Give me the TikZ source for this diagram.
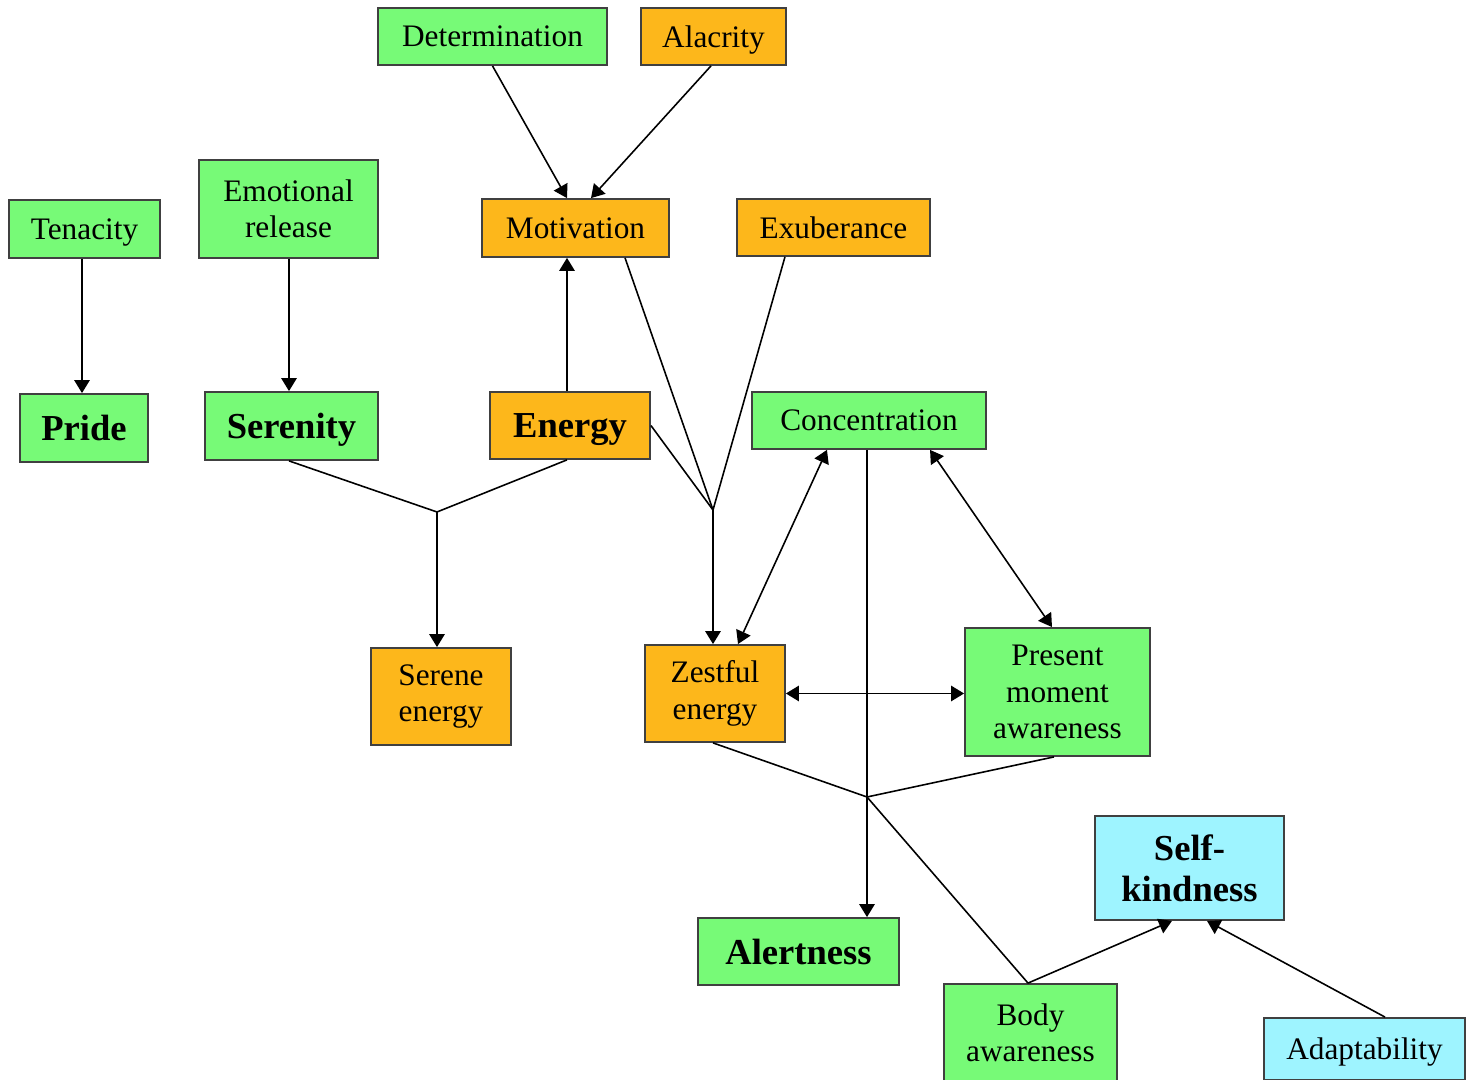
\documentclass[tikz,border=0pt]{standalone}
\usepackage{fontspec}
\setmainfont{Liberation Serif}
\usetikzlibrary{arrows.meta}

\definecolor{boxgreen}{HTML}{77FA77}
\definecolor{boxorange}{HTML}{FDB71B}
\definecolor{boxcyan}{HTML}{9EF4FF}

\tikzset{
  box/.style={draw=black!75, line width=0.5pt, inner sep=0pt, align=center,
    font=\fontsize{8.9}{10.4}\selectfont},
  bigbox/.style={box, font=\fontsize{10.4}{11.7}\selectfont\bfseries},
  gbox/.style={fill=boxgreen},
  obox/.style={fill=boxorange},
  cbox/.style={fill=boxcyan},
  nodepth/.style={text depth=0pt},
  wire/.style={line width=0.45pt},
}

\begin{document}
\begin{tikzpicture}[x=0.01cm, y=-0.01cm, >={Triangle[length=3.7pt,width=4.4pt]}]
  \useasboundingbox (0,0) rectangle (1472,1080);

  % --- top row ---
  \node[box, gbox, minimum width=2.29cm, minimum height=0.57cm] (det) at (492.5,36.5) {Determination};
  \node[box, obox, nodepth, minimum width=1.45cm, minimum height=0.57cm] (alac) at (713.5,36.5) {Alacrity};

  % --- second row ---
  \node[box, gbox, nodepth, minimum width=1.51cm, minimum height=0.58cm] (ten) at (84.5,229) {Tenacity};
  \node[box, gbox, minimum width=1.79cm, minimum height=0.98cm] (emo) at (288.5,209) {Emotional\\release};
  \node[box, obox, minimum width=1.87cm, minimum height=0.58cm] (mot) at (575.5,228) {Motivation};
  \node[box, obox, minimum width=1.93cm, minimum height=0.57cm] (exu) at (833.5,227.5) {Exuberance};

  % --- third row ---
  \node[bigbox, gbox, minimum width=1.28cm, minimum height=0.68cm] (pride) at (84,428) {Pride};
  \node[bigbox, gbox, nodepth, minimum width=1.73cm, minimum height=0.68cm] (ser) at (291.5,426) {Serenity};
  \node[bigbox, obox, nodepth, minimum width=1.60cm, minimum height=0.67cm] (en) at (570,425.5) {Energy};
  \node[box, gbox, minimum width=2.34cm, minimum height=0.57cm] (conc) at (869,420.5) {Concentration};

  % --- fourth row ---
  \node[box, obox, minimum width=1.40cm, minimum height=0.97cm] (sere) at (441,696.5) {Serene\\energy};
  \node[box, obox, minimum width=1.40cm, minimum height=0.97cm] (zest) at (715,693.5) {Zestful\\energy};
  \node[box, gbox, minimum width=1.85cm, minimum height=1.28cm] (pres) at (1057.5,692) {Present\\moment\\awareness};

  % --- bottom ---
  \node[bigbox, cbox, minimum width=1.89cm, minimum height=1.04cm] (self) at (1189.5,868) {Self-\\kindness};
  \node[bigbox, gbox, minimum width=2.01cm, minimum height=0.67cm] (alert) at (798.5,951.5) {Alertness};
  \node[box, gbox, minimum width=1.73cm, minimum height=0.98cm] (body) at (1030.5,1033) {Body\\awareness};
  \node[box, cbox, nodepth, minimum width=2.01cm, minimum height=0.62cm] (adapt) at (1364.5,1049) {Adaptability};

  % junctions
  \coordinate (J1) at (437,512);
  \coordinate (J2) at (713,510);
  \coordinate (J3) at (867,797);

  % --- connectors ---
  \draw[wire, ->] (det.south) -- ([xshift=-0.085cm]mot.north);
  \draw[wire, ->] ([xshift=-0.025cm]alac.south) -- ([xshift=0.155cm]mot.north);
  \draw[wire, ->] ([xshift=-0.025cm]ten.south) -- ([xshift=-0.025cm]ten.south |- pride.north);
  \draw[wire, ->] ([xshift=0.005cm]emo.south) -- ([xshift=0.005cm]emo.south |- ser.north);
  \draw[wire, ->] ([xshift=-0.03cm]en.north) -- ([xshift=-0.03cm]en.north |- mot.south);

  \draw[wire] ([xshift=-0.025cm]ser.south) -- (J1);
  \draw[wire] ([xshift=-0.03cm]en.south) -- (J1);
  \draw[wire, ->] (J1) -- (J1 |- sere.north);

  \draw[wire] ([xshift=0.495cm]mot.south) -- (J2);
  \draw[wire] ([xshift=-0.485cm]exu.south) -- (J2);
  \draw[wire] (en.east) -- (J2);
  \draw[wire, ->] (J2) -- (J2 |- zest.north);

  \draw[wire, <->] ([xshift=-0.42cm]conc.south) -- ([xshift=0.23cm]zest.north);
  \draw[wire, <->] ([xshift=0.61cm]conc.south) -- ([xshift=-0.055cm]pres.north);
  \draw[wire, <->] (zest.east) -- (zest.east -| pres.west);
  \draw[wire, ->] ([xshift=-0.02cm]conc.south) -- ([xshift=-0.02cm]conc.south |- alert.north);

  \draw[wire] ([xshift=-0.02cm]zest.south) -- (J3);
  \draw[wire] ([xshift=-0.035cm]pres.south) -- (J3);
  \draw[wire] ([xshift=-0.025cm]body.north) -- (J3);

  \draw[wire, ->] ([xshift=-0.025cm]body.north) -- ([xshift=-0.175cm]self.south);
  \draw[wire, ->] ([xshift=0.205cm]adapt.north) -- ([xshift=0.175cm]self.south);

\end{tikzpicture}
\end{document}
